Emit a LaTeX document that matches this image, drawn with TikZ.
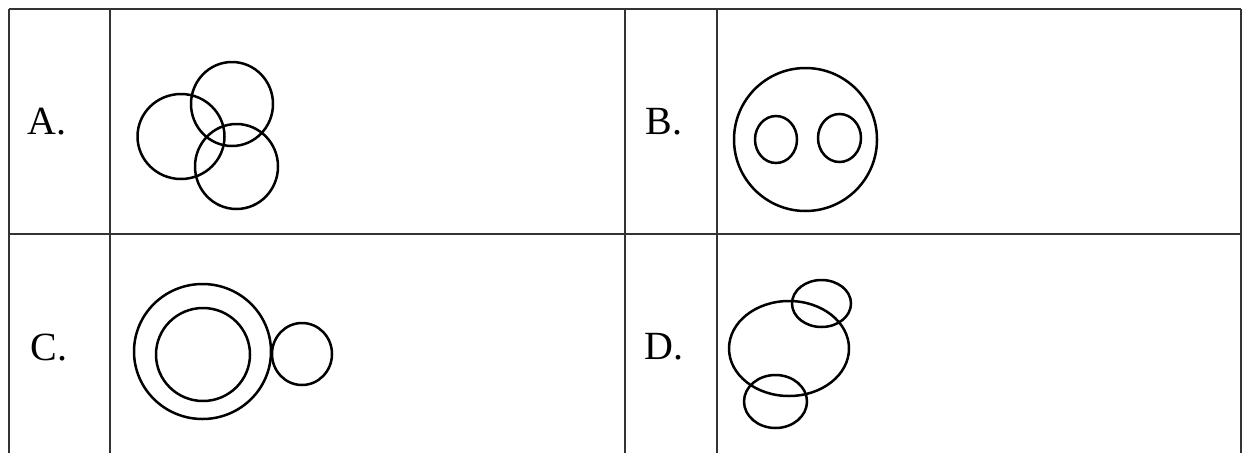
\documentclass[tikz,border=0pt]{standalone}
\usepackage{fontspec}
\setmainfont{Liberation Serif}
\usepackage{tikz}
\begin{document}
\begin{tikzpicture}[x=1pt,y=-1pt,
  grid/.style={line width=1.6pt,draw=black!80},
  shapeline/.style={line width=2.5pt,draw=black},
  lbl/.style={font=\fontsize{40}{42}\selectfont,inner sep=0pt,anchor=center}]
\useasboundingbox[fill=white] (0,0) rectangle (1244,453);
% table
\draw[grid] (9,9) -- (1241,9);
\draw[grid] (9,234) -- (1241,234);
\draw[grid] (9,9) -- (9,453);
\draw[grid] (110,9) -- (110,453);
\draw[grid] (625,9) -- (625,453);
\draw[grid] (717,9) -- (717,453);
\draw[grid] (1241,9) -- (1241,453);
% labels
\node[lbl] (la) at (47,122) {A.};
\node[lbl] (lb) at (664,122) {B.};
\node[lbl] (lc) at (49,348) {C.};
\node[lbl] (ld) at (664,347) {D.};
% A
\draw[shapeline] (181,136.5) ellipse [x radius=43.5, y radius=42.5];
\draw[shapeline] (232,104) ellipse [x radius=41, y radius=42];
\draw[shapeline] (236.5,166.5) ellipse [x radius=41.5, y radius=42.5];
% B
\draw[shapeline] (805.5,139.5) ellipse [x radius=71.5, y radius=71.5];
\draw[shapeline] (776,139.5) ellipse [x radius=21, y radius=23.5];
\draw[shapeline] (839.5,138) ellipse [x radius=21.5, y radius=24];
% C
\draw[shapeline] (202.5,351.5) ellipse [x radius=68.5, y radius=67.5];
\draw[shapeline] (203,354.5) ellipse [x radius=47, y radius=46.5];
\draw[shapeline] (302,354) ellipse [x radius=30, y radius=31];
% D
\draw[shapeline] (789,348.5) ellipse [x radius=60, y radius=47.5];
\draw[shapeline] (821.5,303.5) ellipse [x radius=29.5, y radius=23.5];
\draw[shapeline] (775.5,401.5) ellipse [x radius=31.5, y radius=26.5];
\end{tikzpicture}
\end{document}
